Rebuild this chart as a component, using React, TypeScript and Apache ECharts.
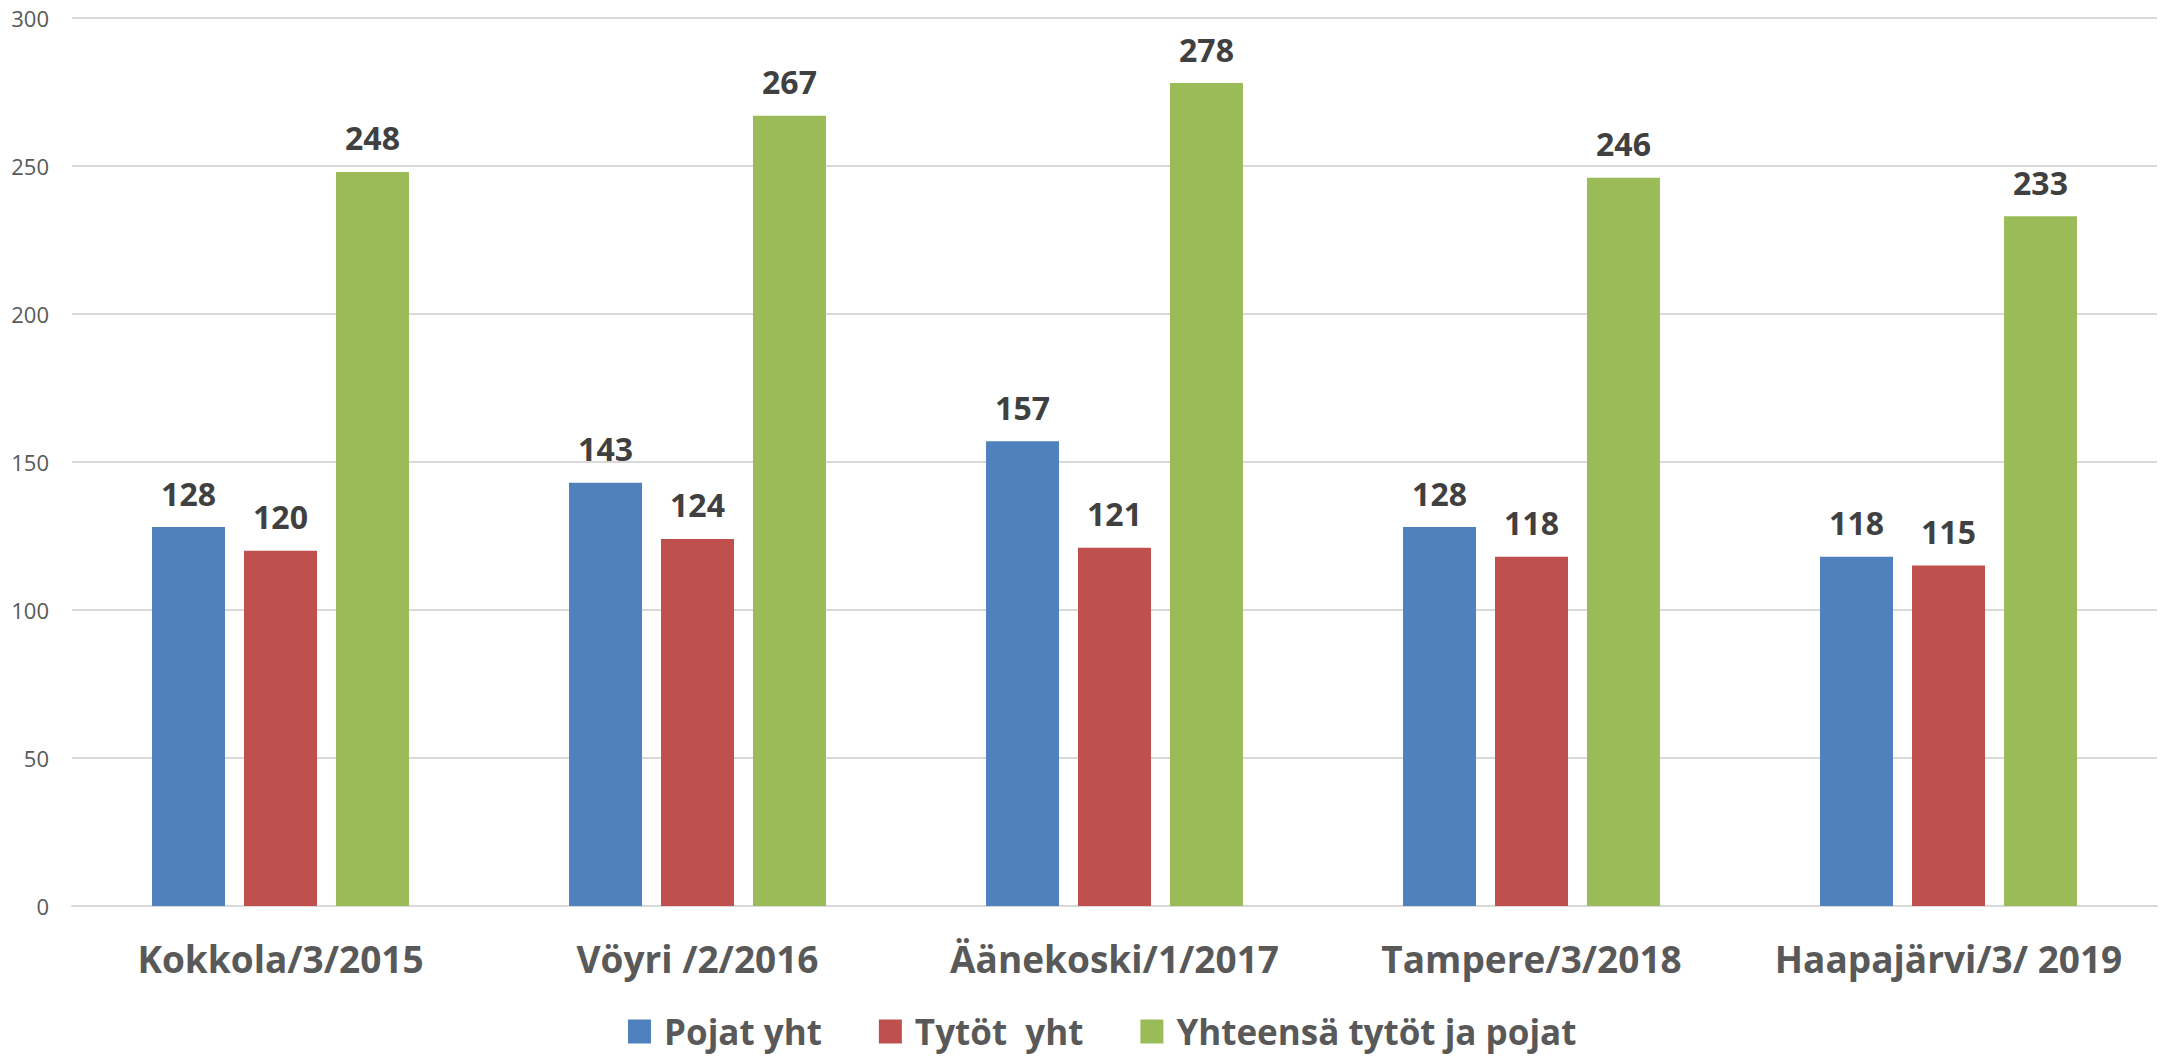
import React, { useEffect, useRef } from "react";
import * as echarts from "echarts";

const categories = ["Kokkola/3/2015", "Vöyri /2/2016", "Äänekoski/1/2017", "Tampere/3/2018", "Haapajärvi/3/ 2019"];
const seriesNames = ["Pojat yht", "Tytöt  yht", "Yhteensä tytöt ja pojat"];
const pojat = [128, 143, 157, 128, 118];
const tytot = [120, 124, 121, 118, 115];
const yhteensa = [248, 267, 278, 246, 233];
const colors = ["#4F81BD", "#C0504D", "#9BBB59"];

const FONT = "'Open Sans', 'Noto Sans', sans-serif";

export default function App() {
  const ref = useRef<HTMLDivElement>(null);
  useEffect(() => {
    if (!ref.current) return;
    const chart = echarts.init(ref.current, null, { renderer: "svg" });
    const mk = (name: string, data: number[], color: string) => ({
      name,
      type: "bar",
      data,
      barWidth: 73,
      barGap: "26%",
      itemStyle: { color },
      label: {
        show: true,
        position: "top",
        distance: 18,
        fontFamily: FONT,
        fontSize: 32,
        fontWeight: "bold",
        color: "#404040",
      },
    });
    chart.setOption({
      animation: false,
      backgroundColor: "#ffffff",
      textStyle: { fontFamily: FONT },
      grid: { left: 72, right: 5, top: 18, bottom: 152, containLabel: false },
      legend: {
        data: seriesNames,
        left: 623,
        top: 1009,
        itemWidth: 23,
        itemHeight: 24,
        itemGap: 57,
        icon: "rect",
        textStyle: {
          fontFamily: FONT,
          fontSize: 35,
          fontWeight: "bold",
          color: "#595959",
          padding: [0, 0, 0, 8],
        },
      },
      xAxis: {
        type: "category",
        data: categories,
        axisLine: { show: true, lineStyle: { color: "#d9d9d9", width: 2 } },
        axisTick: { show: false },
        axisLabel: {
          interval: 0,
          margin: 34,
          fontFamily: FONT,
          fontSize: 37,
          fontWeight: "bold",
          color: "#595959",
        },
      },
      yAxis: {
        type: "value",
        min: 0,
        max: 300,
        interval: 50,
        axisLine: { show: false },
        axisTick: { show: false },
        splitLine: { lineStyle: { color: "#d9d9d9", width: 2 } },
        axisLabel: { margin: 23, fontFamily: FONT, fontSize: 22, color: "#595959" },
      },
      series: [mk(seriesNames[0], pojat, colors[0]), mk(seriesNames[1], tytot, colors[1]), mk(seriesNames[2], yhteensa, colors[2])],
    });
    return () => chart.dispose();
  }, []);
  return <div ref={ref} style={{ position: "fixed", left: 0, top: 0, width: 2162, height: 1058 }} />;
}
